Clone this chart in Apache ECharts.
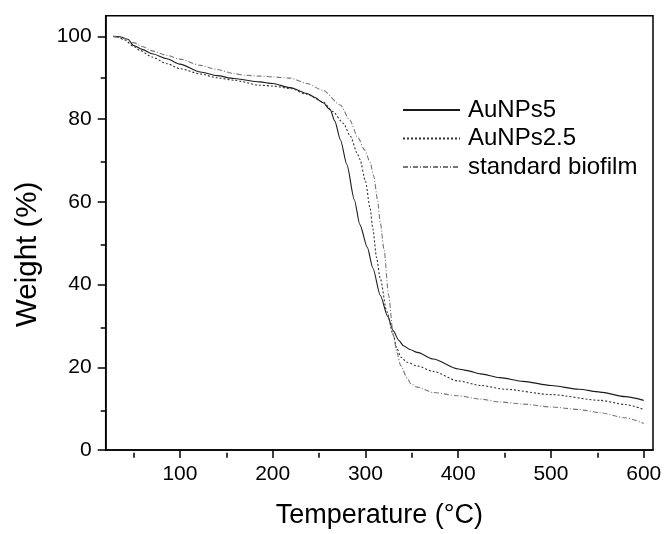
<!DOCTYPE html>
<html>
<head>
<meta charset="utf-8">
<script src="https://cdn.jsdelivr.net/npm/echarts@6/dist/echarts.min.js"></script>
<style>
html,body{margin:0;padding:0;background:#fff;}
#chart{width:666px;height:534px;}
</style>
</head>
<body>
<div id="chart"></div>
<script>
// ---- data (Temperature °C, Weight %) ----
var seriesNames = ['AuNPs5', 'AuNPs2.5', 'standard biofilm'];

var auNPs5 = [
  [28,100],[35,99.9],[44,99.3],[50,97.8],[60,96.8],[70,95.8],[86,94.6],[100,93.3],
  [122,91.4],[140,90.5],[158,89.8],[186,89.0],[200,88.6],[219,87.6],[237,86.2],
  [245,85.3],[254,84.0],[262,82.3],[267,79.5],[273,75.0],[280,69.0],[288,60.5],
  [294,54.5],[302,49.0],[308,44.0],[316,37.4],[324,32.3],[330,28.8],[336,26.5],
  [341,25.2],[348,24.3],[356,23.6],[373,22.0],[400,19.6],[410,19.2],[424,18.4],
  [445,17.5],[470,16.6],[500,15.6],[530,14.7],[553,14.0],[580,12.9],[600,12.0]
];

var auNPs25 = [
  [28,100],[33,99.8],[40,99.2],[50,97.6],[57,96.6],[70,95.0],[86,93.4],[100,92.2],
  [122,90.9],[140,90.0],[158,89.4],[186,88.2],[200,88.0],[219,87.4],[237,86.0],
  [254,84.2],[265,81.8],[276,79.0],[284,75.8],[291,71.8],[294,70.3],[300,65.0],
  [305,58.5],[308,53.5],[312,46.5],[316,41.4],[323,33.5],[330,27.8],[334,24.5],
  [338,22.5],[345,21.2],[356,20.3],[373,19.0],[400,16.7],[424,15.6],[450,14.7],
  [500,13.4],[553,12.0],[580,11.0],[600,9.8]
];

var standardBiofilm = [
  [28,100],[40,99.5],[50,98.5],[60,97.5],[70,96.5],[86,95.4],[100,94.5],[122,93.0],
  [140,92.0],[158,91.0],[170,90.6],[186,90.4],[200,90.2],[219,89.9],[237,88.6],
  [254,87.0],[273,83.4],[283,79.8],[292,75.5],[299,72.6],[305,69.6],[309,66.2],
  [313,60.5],[316,55.0],[320,48.5],[325,37.4],[330,27.8],[334,23.5],[338,20.4],
  [345,17.4],[349,16.0],[356,15.2],[373,13.9],[400,13.1],[424,12.3],[445,11.6],
  [470,11.1],[500,10.4],[530,9.8],[553,9.0],[580,7.8],[600,6.4]
];

var xMajorTicks = [100, 200, 300, 400, 500, 600];
var xMinorTicks = [50, 150, 250, 350, 450, 550];
var yMajorTicks = [0, 20, 40, 60, 80, 100];
var yMinorTicks = [10, 30, 50, 70, 90];

var xTitle = 'Temperature (°C)';
var yTitle = 'Weight (%)';

// ---- chart ----
var FONT = '"Liberation Sans", Arial, sans-serif';
var gridPos = {left: 105.7, right: 13, top: 15.7, bottom: 81.3};
var X_MIN = 20, X_MAX = 610, Y_MIN = 0, Y_MAX = 105;

var chart = echarts.init(document.getElementById('chart'), null, {renderer: 'canvas'});

var option = {
  animation: false,
  backgroundColor: '#fff',
  grid: [
    Object.assign({show: true, borderColor: '#000', borderWidth: 1.5, backgroundColor: 'transparent', containLabel: false}, gridPos),
    Object.assign({show: false, containLabel: false}, gridPos)
  ],
  legend: {
    orient: 'vertical',
    left: 402,
    top: 98,
    padding: 0,
    itemWidth: 57,
    itemHeight: 14,
    itemGap: 4.5,
    itemStyle: {opacity: 0},
    textStyle: {fontFamily: FONT, fontSize: 24, lineHeight: 23, color: '#000', padding: [0, 0, 0, 3]},
    data: seriesNames
  },
  xAxis: [
    {
      type: 'value', gridIndex: 0, min: X_MIN, max: X_MAX,
      name: xTitle, nameLocation: 'middle', nameGap: 52,
      nameTextStyle: {fontFamily: FONT, fontSize: 27, color: '#000'},
      axisLine: {show: true, lineStyle: {color: '#000', width: 1.5}},
      axisTick: {show: true, inside: false, length: 8, customValues: xMajorTicks, lineStyle: {color: '#000', width: 1.5}},
      axisLabel: {show: true, customValues: xMajorTicks, margin: 14, fontFamily: FONT, fontSize: 21, color: '#000'},
      splitLine: {show: false}
    },
    {
      type: 'value', gridIndex: 1, min: X_MIN, max: X_MAX,
      axisLine: {show: false},
      axisTick: {show: true, inside: false, length: 5, customValues: xMinorTicks, lineStyle: {color: '#000', width: 1.5}},
      axisLabel: {show: false},
      splitLine: {show: false}
    }
  ],
  yAxis: [
    {
      type: 'value', gridIndex: 0, min: Y_MIN, max: Y_MAX,
      name: yTitle, nameLocation: 'middle', nameGap: 63, nameRotate: 90,
      nameTextStyle: {fontFamily: FONT, fontSize: 29.5, color: '#000', padding: [0, 43, 0, 0]},
      axisLine: {show: true, lineStyle: {color: '#000', width: 1.5}},
      axisTick: {show: true, inside: false, length: 8, customValues: yMajorTicks, lineStyle: {color: '#000', width: 1.5}},
      axisLabel: {show: true, customValues: yMajorTicks, margin: 14, fontFamily: FONT, fontSize: 21, color: '#000'},
      splitLine: {show: false}
    },
    {
      type: 'value', gridIndex: 1, min: Y_MIN, max: Y_MAX,
      axisLine: {show: false},
      axisTick: {show: true, inside: false, length: 5, customValues: yMinorTicks, lineStyle: {color: '#000', width: 1.5}},
      axisLabel: {show: false},
      splitLine: {show: false}
    }
  ],
  series: [
    {
      name: seriesNames[0], type: 'line', xAxisIndex: 0, yAxisIndex: 0,
      data: auNPs5, showSymbol: false, symbol: 'none', smooth: 0.25, smoothMonotone: 'x',
      lineStyle: {color: '#1a1a1a', width: 1.1, type: 'solid'},
      itemStyle: {color: '#1a1a1a'}
    },
    {
      name: seriesNames[1], type: 'line', xAxisIndex: 0, yAxisIndex: 0,
      data: auNPs25, showSymbol: false, symbol: 'none', smooth: 0.25, smoothMonotone: 'x',
      lineStyle: {color: '#333', width: 1.1, type: [2, 2]},
      itemStyle: {color: '#333'}
    },
    {
      name: seriesNames[2], type: 'line', xAxisIndex: 0, yAxisIndex: 0,
      data: standardBiofilm, showSymbol: false, symbol: 'none', smooth: 0.25, smoothMonotone: 'x',
      lineStyle: {color: '#777', width: 1.1, type: [5, 2, 1, 2]},
      itemStyle: {color: '#777'}
    }
  ]
};

chart.setOption(option);
</script>
</body>
</html>
